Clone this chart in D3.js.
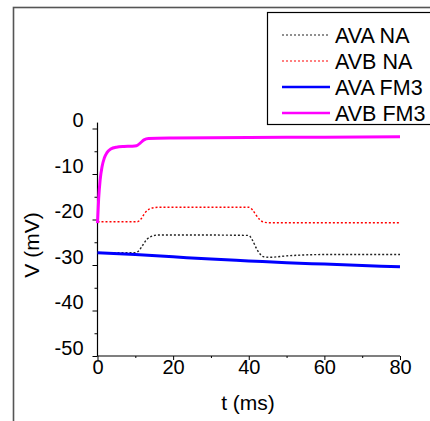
<!DOCTYPE html>
<html>
<head>
<meta charset="utf-8">
<script src="https://cdn.jsdelivr.net/npm/d3@7"></script>
<style>
  body { margin: 0; background: #fff; }
  text { font-family: "Liberation Sans", Arial, sans-serif; fill: #000; }
</style>
</head>
<body>
<div id="chart"></div>
<script>
var width = 430;
var height = 421;

// traces: [t (ms), V (mV)]
var avaNA = [[0, -27.3], [5, -27.3], [10, -27.3], [11, -26.8], [12, -25.6], [13, -24.4], [14, -23.8],
  [16, -23.4], [25, -23.4], [40, -23.5], [41, -24.6], [42, -26.3], [43, -27.6], [44, -28.2],
  [45.5, -28.3], [50, -28.0], [60, -27.7], [70, -27.7], [80, -27.7]];
var avbNA = [[0, -20.5], [5, -20.5], [10.5, -20.5], [11.5, -19.9], [12.5, -18.6], [13.5, -17.8],
  [15, -17.4], [16.5, -17.3], [30, -17.3], [40, -17.3], [41, -17.9], [42, -19.1], [43, -20.1],
  [44, -20.6], [45.5, -20.7], [60, -20.7], [80, -20.7]];
var avaFM3 = [[0, -27.3], [10, -27.7], [20, -28.2], [30, -28.7], [40, -29.1], [50, -29.5],
  [60, -29.8], [70, -30.1], [80, -30.4]];
var avbFM3 = [[0, -20.8], [0.3, -15.5], [0.7, -11.3], [1.2, -8.4], [1.8, -6.5], [2.5, -5.3],
  [3.5, -4.5], [5, -4.1], [7, -3.95], [9, -3.9], [10.3, -3.8], [11.3, -3.2], [12.3, -2.5],
  [13.5, -2.2], [20, -2.1], [40, -2.0], [60, -1.9], [80, -1.8]];

var series = [
  {name: "AVA NA", data: avaNA, color: "#222", dash: "2,2", w: 1.4},
  {name: "AVB NA", data: avbNA, color: "#f00", dash: "2,2", w: 1.4},
  {name: "AVA FM3", data: avaFM3, color: "#0000ff", dash: null, w: 3},
  {name: "AVB FM3", data: avbFM3, color: "#ff00ff", dash: null, w: 3}
];

var xMajor = [0, 20, 40, 60, 80];
var xMinor = [10, 30, 50, 70];
var yMajor = [-50, -40, -30, -20, -10, 0];
var yMinor = [-45, -35, -25, -15, -5];

var svg = d3.select("#chart").append("svg")
  .attr("width", width)
  .attr("height", height);

// outer frame (cut by the window on right and bottom)
svg.append("rect")
  .attr("x", 13.5).attr("y", 7.5)
  .attr("width", 600).attr("height", 600)
  .attr("fill", "none")
  .attr("stroke", "#555")
  .attr("stroke-width", 1.6);

var x = d3.scaleLinear().domain([0, 80]).range([97.5, 400]);
var y = d3.scaleLinear().domain([-50, 0]).range([356, 128.5]);

// plain hyphen for negatives, like the original
var fmt = function(d) { return String(d); };

// x axis
var gX = svg.append("g").attr("transform", "translate(0," + y(-50) + ")");
gX.call(d3.axisBottom(x).tickValues(xMajor).tickSize(4).tickFormat(fmt));
gX.append("g").call(d3.axisBottom(x).tickValues(xMinor).tickSize(2).tickFormat(""))
  .select(".domain").remove();
gX.select(".domain").attr("d", "M" + x(0) + ",0H" + x(80)).attr("stroke-width", 1.2);
gX.selectAll("text").attr("font-size", "20px").attr("font-family", "Liberation Sans, Arial, sans-serif")
  .attr("fill", "#000").attr("y", 4).attr("dy", "0.71em");

// y axis
var gY = svg.append("g").attr("transform", "translate(" + x(0) + ",0)");
gY.call(d3.axisLeft(y).tickValues(yMajor).tickSize(5).tickFormat(fmt));
gY.append("g").call(d3.axisLeft(y).tickValues(yMinor).tickSize(3).tickFormat(""))
  .select(".domain").remove();
gY.select(".domain").attr("d", "M0," + y(-50) + "V" + y(1.3)).attr("stroke-width", 1.2);
gY.selectAll("text").attr("font-size", "20px").attr("font-family", "Liberation Sans, Arial, sans-serif")
  .attr("fill", "#000").attr("y", -8).attr("x", -14);

// axis titles
svg.append("text")
  .attr("x", 248).attr("y", 410)
  .attr("text-anchor", "middle")
  .attr("font-size", "21px")
  .text("t (ms)");

svg.append("text")
  .attr("transform", "translate(39,245) rotate(-90)")
  .attr("text-anchor", "middle")
  .attr("font-size", "21px")
  .text("V (mV)");

// traces
var line = d3.line()
  .x(function(d) { return x(d[0]); })
  .y(function(d) { return y(d[1]); })
  .curve(d3.curveMonotoneX);

svg.selectAll("path.trace").data(series).enter()
  .append("path")
  .attr("class", "trace")
  .attr("d", function(d) { return line(d.data); })
  .attr("fill", "none")
  .attr("stroke", function(d) { return d.color; })
  .attr("stroke-width", function(d) { return d.w; })
  .attr("stroke-dasharray", function(d) { return d.dash; });

// legend
var legend = svg.append("g");
legend.append("rect")
  .attr("x", 267.5).attr("y", 12.5)
  .attr("width", 200).attr("height", 112)
  .attr("fill", "#fff")
  .attr("stroke", "#000")
  .attr("stroke-width", 1.2);

var rows = legend.selectAll("g.row").data(series).enter()
  .append("g")
  .attr("class", "row")
  .attr("transform", function(d, i) { return "translate(0," + (35 + i * 26) + ")"; });

rows.append("line")
  .attr("x1", 282).attr("x2", 330)
  .attr("y1", 0).attr("y2", 0)
  .attr("stroke", function(d) { return d.color; })
  .attr("stroke-width", function(d) { return d.dash ? 1.2 : 2.5; })
  .attr("stroke-dasharray", function(d) { return d.dash; });

rows.append("text")
  .attr("x", 335).attr("y", 0).attr("dy", "0.36em")
  .attr("font-size", "21.5px")
  .text(function(d) { return d.name; });
</script>
</body>
</html>
